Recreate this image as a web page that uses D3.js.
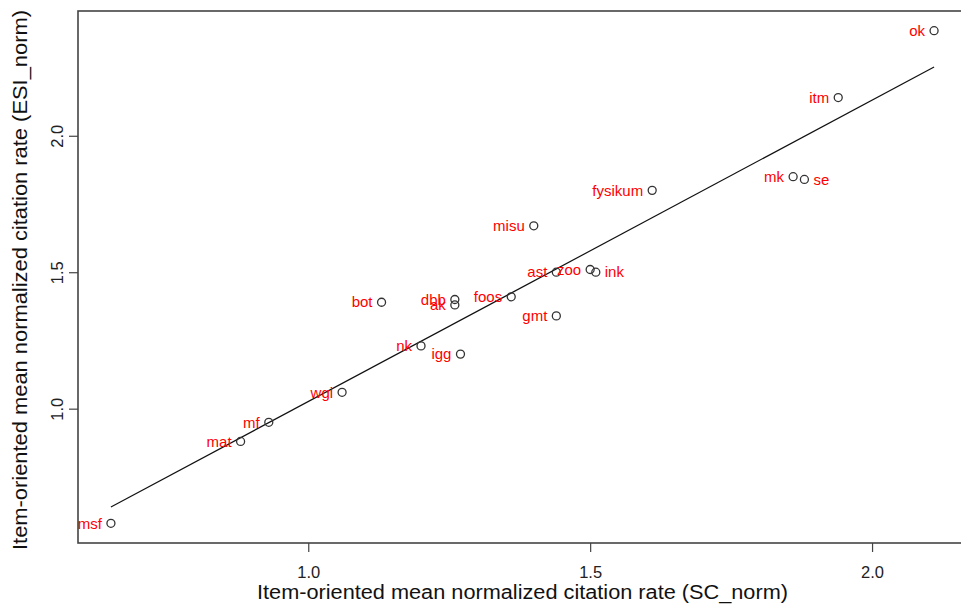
<!DOCTYPE html>
<html>
<head>
<meta charset="utf-8">
<script src="https://cdn.jsdelivr.net/npm/d3@7"></script>
<style>
  body { margin: 0; background: #fff; }
  svg { display: block; font-family: "Liberation Sans", Arial, sans-serif; }
  .axis text { font-size: 16.5px; fill: #222; }
  .axis line { stroke: #444; stroke-width: 1.2; }
  .lbl { font-size: 15px; fill: #ff0000; }
  .title { font-size: 19.5px; fill: #111; }
</style>
</head>
<body>
<script>
// departments
const names = ['ok', 'itm', 'fysikum', 'mk', 'se', 'misu', 'ast', 'zoo', 'ink', 'bot',
    'dbb', 'ak', 'foos', 'gmt', 'nk', 'igg', 'wgi', 'mf', 'mat', 'msf'];
// SC_norm
const scNorm = [2.11, 1.94, 1.61, 1.86, 1.88, 1.40, 1.44, 1.50, 1.51, 1.13,
    1.26, 1.26, 1.36, 1.44, 1.20, 1.27, 1.06, 0.93, 0.88, 0.65];
// ESI_norm
const esiNorm = [2.385, 2.14, 1.80, 1.85, 1.84, 1.67, 1.50, 1.51, 1.50, 1.39,
    1.40, 1.38, 1.41, 1.34, 1.23, 1.20, 1.06, 0.95, 0.88, 0.58];
// labels drawn on the right of their point
const rightLabels = ['se', 'ink'];
const tickVals = [1.0, 1.5, 2.0];

const outerW = 961,
    outerH = 615;

const box = { left: 78, right: 967, top: 11, bottom: 543 };

const data = names.map((n, i) => ({ name: n, x: scNorm[i], y: esiNorm[i] }));

// R style 4% range extension
function padExtent(vals) {
    const e = d3.extent(vals);
    const p = (e[1] - e[0]) * 0.04;
    return [e[0] - p, e[1] + p];
}

const x = d3.scaleLinear().domain(padExtent(scNorm)).range([box.left, box.right]);
const y = d3.scaleLinear().domain(padExtent(esiNorm)).range([box.bottom, box.top]);

// least squares fit
const mx = d3.mean(scNorm),
    my = d3.mean(esiNorm);
const sxy = d3.sum(data, d => (d.x - mx) * (d.y - my));
const sxx = d3.sum(data, d => (d.x - mx) * (d.x - mx));
const slope = sxy / sxx,
    intercept = my - slope * mx;

const svg = d3.select('body').append('svg')
    .attr('width', outerW)
    .attr('height', outerH);

// axes
const xAxis = svg.append('g')
    .attr('class', 'x axis')
    .attr('transform', `translate(0, ${box.bottom})`)
    .call(d3.axisBottom(x)
        .tickValues(tickVals)
        .tickFormat(d3.format('.1f'))
        .tickSize(9)
        .tickSizeOuter(0)
        .tickPadding(14)
    );
xAxis.select('.domain').remove();

const yAxis = svg.append('g')
    .attr('class', 'y axis')
    .attr('transform', `translate(${box.left}, 0)`)
    .call(d3.axisLeft(y)
        .tickValues(tickVals)
        .tickFormat(d3.format('.1f'))
        .tickSize(9)
        .tickSizeOuter(0)
    );
yAxis.select('.domain').remove();
yAxis.selectAll('text')
    .attr('x', 0)
    .attr('y', 0)
    .attr('dy', 0)
    .attr('text-anchor', 'middle')
    .attr('transform', 'translate(-15, 0) rotate(-90)');

// frame
svg.append('rect')
    .attr('x', box.left)
    .attr('y', box.top)
    .attr('width', box.right - box.left)
    .attr('height', box.bottom - box.top)
    .attr('fill', 'none')
    .attr('stroke', '#444')
    .attr('stroke-width', 1.6);

// fit line over data range
const xr = d3.extent(scNorm);
svg.append('line')
    .attr('x1', x(xr[0]))
    .attr('y1', y(intercept + slope * xr[0]))
    .attr('x2', x(xr[1]))
    .attr('y2', y(intercept + slope * xr[1]))
    .attr('stroke', '#111')
    .attr('stroke-width', 1.2);

// points
svg.selectAll('.pt')
    .data(data)
    .enter()
    .append('circle')
    .attr('class', 'pt')
    .attr('cx', d => x(d.x))
    .attr('cy', d => y(d.y))
    .attr('r', 4)
    .attr('fill', 'none')
    .attr('stroke', '#333')
    .attr('stroke-width', 1.3);

svg.selectAll('.lbl')
    .data(data)
    .enter()
    .append('text')
    .attr('class', 'lbl')
    .attr('x', d => rightLabels.includes(d.name) ? x(d.x) + 9 : x(d.x) - 9)
    .attr('y', d => y(d.y))
    .attr('dy', '0.35em')
    .attr('text-anchor', d => rightLabels.includes(d.name) ? 'start' : 'end')
    .text(d => d.name);

// titles
svg.append('text')
    .attr('class', 'title')
    .attr('x', (box.left + box.right) / 2)
    .attr('y', 599)
    .attr('text-anchor', 'middle')
    .attr('textLength', 531)
    .attr('lengthAdjust', 'spacingAndGlyphs')
    .text('Item-oriented mean normalized citation rate (SC_norm)');

svg.append('text')
    .attr('class', 'title')
    .attr('text-anchor', 'middle')
    .attr('textLength', 540)
    .attr('lengthAdjust', 'spacingAndGlyphs')
    .attr('transform', `translate(27, ${(box.top + box.bottom) / 2 + 3}) rotate(-90)`)
    .text('Item-oriented mean normalized citation rate (ESI_norm)');
</script>
</body>
</html>
